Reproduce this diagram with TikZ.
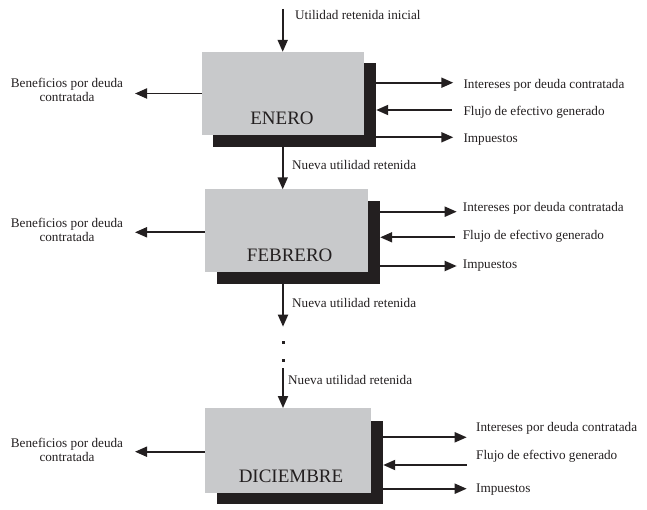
\documentclass[tikz,border=0pt]{standalone}
\usepackage{fontspec}
\setmainfont{Liberation Serif}
\usetikzlibrary{arrows.meta}
\definecolor{boxgray}{HTML}{C8C9CB}
\definecolor{ink}{HTML}{231F20}
\begin{document}
\begin{tikzpicture}[x=1pt,y=-1pt,
  lbl/.style={inner sep=0pt,anchor=west,text=ink,font=\fontsize{13.2}{15}\selectfont,text height=9pt,text depth=2.5pt},
  llbl/.style={inner sep=0pt,text=ink,align=center,font=\fontsize{13.2}{14.2}\selectfont},
  month/.style={inner sep=0pt,text=ink,font=\fontsize{19}{22}\selectfont,text height=13pt,text depth=0pt},
  graybox/.style={fill=boxgray,draw=none,inner sep=0pt},
  shadowbox/.style={fill=ink,draw=none,inner sep=0pt},
  arr/.style={draw=ink,line width=1.9pt,-{Triangle[length=12pt,width=10pt]}},
  dotmark/.style={fill=ink,inner sep=0pt,minimum size=3pt}]
\useasboundingbox (0,0) rectangle (647,510);

% ---------- ENERO ----------
\node[shadowbox,minimum width=163pt,minimum height=84pt] (s1) at (294.5,105) {};
\node[graybox,minimum width=162pt,minimum height=83pt] (b1) at (283,93.5) {};
\node[month] (m1) at (282,118.5) {ENERO};
\coordinate (t0) at (282.7,9);
\draw[arr] (t0) -- (b1.north -| t0);
\node[lbl] (u0) at (295,16) {Utilidad retenida inicial};
\coordinate (r1a) at (453.3,82.7);
\coordinate (r1b) at (451.7,110);
\coordinate (r1c) at (453.3,137.3);
\draw[arr] (s1.east |- r1a) -- (r1a);
\draw[arr] (r1b) -- (s1.east |- r1b);
\draw[arr] (s1.east |- r1c) -- (r1c);
\node[lbl] (i1) at (463.3,85) {Intereses por deuda contratada};
\node[lbl] (f1) at (463.3,112) {Flujo de efectivo generado};
\node[lbl] (p1) at (463.3,139) {Impuestos};
\coordinate (l1) at (135,93.5);
\draw[arr] (b1.west |- l1) -- (l1);
\node[llbl] (g1) at (67,90) {Beneficios por deuda\\contratada};

% ---------- FEBRERO ----------
\node[shadowbox,minimum width=163pt,minimum height=83pt] (s2) at (298.5,242.5) {};
\node[graybox,minimum width=163pt,minimum height=83pt] (b2) at (286.5,231) {};
\node[month] (m2) at (289.7,255.5) {FEBRERO};
\draw[arr] (s1.south -| t0) -- (b2.north -| t0);
\node[lbl] (u1) at (292,166.5) {Nueva utilidad retenida};
\coordinate (r2a) at (456.7,211.7);
\coordinate (r2b) at (455,237.3);
\coordinate (r2c) at (456.7,266);
\draw[arr] (s2.east |- r2a) -- (r2a);
\draw[arr] (r2b) -- (s2.east |- r2b);
\draw[arr] (s2.east |- r2c) -- (r2c);
\node[lbl] (i2) at (462.7,208.5) {Intereses por deuda contratada};
\node[lbl] (f2) at (462.7,236) {Flujo de efectivo generado};
\node[lbl] (p2) at (462.7,265) {Impuestos};
\coordinate (l2) at (135,232.3);
\draw[arr] (b2.west |- l2) -- (l2);
\node[llbl] (g2) at (67,230) {Beneficios por deuda\\contratada};

% ---------- dots ----------
\coordinate (d0) at (283,326.7);
\draw[arr] (s2.south -| d0) -- (d0);
\node[lbl] (u2) at (292,304) {Nueva utilidad retenida};
\node[dotmark] (dA) at (283,342.7) {};
\node[dotmark] (dB) at (283,360.7) {};

% ---------- DICIEMBRE ----------
\node[shadowbox,minimum width=166pt,minimum height=83pt] (s3) at (300,462.5) {};
\node[graybox,minimum width=166pt,minimum height=84.5pt] (b3) at (288,450.5) {};
\node[month] (m3) at (291,475.5) {DICIEMBRE};
\coordinate (d1) at (283,368);
\draw[arr] (d1) -- (b3.north -| d1);
\node[lbl] (u3) at (288,381) {Nueva utilidad retenida};
\coordinate (r3a) at (466.7,437.3);
\coordinate (r3b) at (466.7,465);
\coordinate (r3c) at (466.7,488.7);
\draw[arr] (s3.east |- r3a) -- (r3a);
\draw[arr] (r3b) -- (s3.east |- r3b);
\draw[arr] (s3.east |- r3c) -- (r3c);
\node[lbl] (i3) at (476,428.5) {Intereses por deuda contratada};
\node[lbl] (f3) at (476,456) {Flujo de efectivo generado};
\node[lbl] (p3) at (476,489.5) {Impuestos};
\coordinate (l3) at (135,451.7);
\draw[arr] (b3.west |- l3) -- (l3);
\node[llbl] (g3) at (67,450) {Beneficios por deuda\\contratada};
\end{tikzpicture}
\end{document}
